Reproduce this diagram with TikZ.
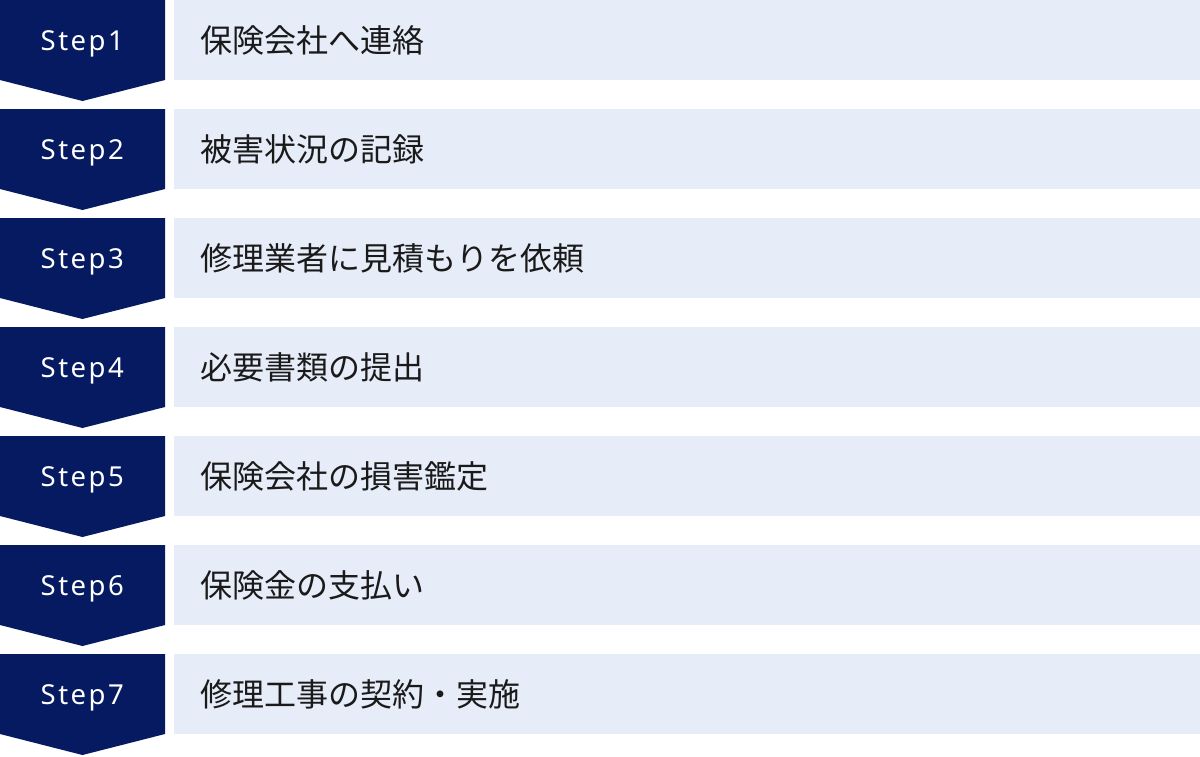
\documentclass[tikz,border=0pt]{standalone}
\usepackage{fontspec}
\newfontfamily\jpfont{Noto Sans CJK JP}
\newfontfamily\stepfont[LetterSpace=9]{Noto Sans}
\definecolor{navy}{HTML}{051A60}
\definecolor{lightbox}{HTML}{E6ECF8}
\definecolor{txt}{HTML}{1A1A1A}
\tikzset{
  x=1pt,y=1pt,
  chevron/.style={fill=navy,draw=none},
  bar/.style={fill=lightbox,draw=none,minimum width=1026pt,minimum height=80pt,inner sep=0pt,anchor=north west},
  steplabel/.style={text=white,font=\stepfont\fontsize{27.5}{32}\selectfont,inner sep=0pt,anchor=base west},
  itemlabel/.style={text=txt,font=\jpfont\fontsize{32}{36}\selectfont,inner sep=0pt,anchor=west}
}
\begin{document}
\begin{tikzpicture}
\useasboundingbox (0,0) rectangle (1200,-756);
\foreach \i/\lab in {1/保険会社へ連絡,2/被害状況の記録,3/修理業者に見積もりを依頼,4/必要書類の提出,5/保険会社の損害鑑定,6/保険金の支払い,7/修理工事の契約・実施}{
  \pgfmathsetmacro{\top}{-109*(\i-1)}
  \fill[chevron] (0,\top) -- (165,\top) -- (165,\top-80) -- (82.5,\top-101) -- (0,\top-80) -- cycle;
  \node[steplabel] (s\i) at (40.5,\top-50) {Step\i};
  \node[bar] (b\i) at (174,\top) {};
  \node[itemlabel] (t\i) at (200,\top-40) {\lab};
}
\end{tikzpicture}
\end{document}
